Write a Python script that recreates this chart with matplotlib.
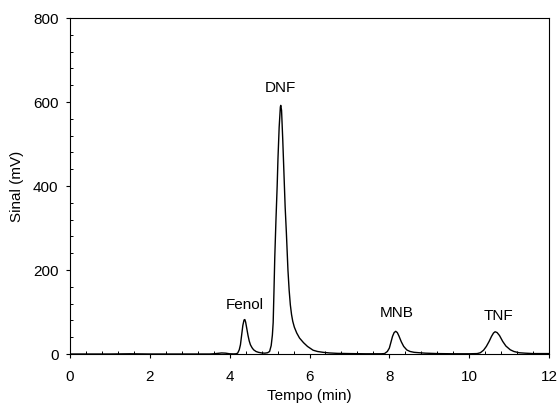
import matplotlib
matplotlib.use("Agg")
import matplotlib.pyplot as plt
from matplotlib.ticker import MultipleLocator

plt.rcParams['font.family'] = ['Liberation Sans', 'DejaVu Sans']

# Chromatogram: retention time (min) and detector signal (mV)
tempo = [0.0, 0.5, 1.0, 1.5, 2.0, 2.5, 3.0, 3.5, 3.6, 3.7, 3.8, 3.9, 4.0, 4.1,
         4.16, 4.2, 4.24, 4.27, 4.30, 4.33, 4.36, 4.38, 4.40, 4.43, 4.46, 4.49,
         4.52, 4.56, 4.60, 4.66, 4.72, 4.80, 4.88, 4.95, 5.00, 5.04, 5.07, 5.09,
         5.11, 5.13, 5.16, 5.19, 5.21, 5.24, 5.27, 5.28, 5.30, 5.33, 5.36, 5.39,
         5.42, 5.46, 5.49, 5.52, 5.55, 5.58, 5.62, 5.68, 5.75, 5.85, 5.95, 6.09,
         6.2, 6.34, 6.5, 6.7, 7.0, 7.4, 7.8, 7.88, 7.95, 8.00, 8.04, 8.08, 8.12,
         8.16, 8.20, 8.24, 8.30, 8.36, 8.44, 8.52, 8.62, 8.75, 8.9, 9.2, 9.6,
         10.0, 10.2, 10.28, 10.36, 10.43, 10.50, 10.56, 10.61, 10.65, 10.70,
         10.76, 10.84, 10.92, 11.03, 11.12, 11.25, 11.4, 11.6, 12.0]
sinal = [0.0, 0.0, 0.0, 0.5, 0.0, 0.0, 0.0, 0.0, 0.5, 1.5, 2.5, 2.0, 0.5, 0.2,
         0.5, 2.0, 10.0, 22.0, 45.0, 68.0, 81.0, 82.0, 76.0, 60.0, 44.0, 31.0,
         22.0, 15.0, 10.0, 6.0, 4.0, 2.5, 2.0, 3.0, 6.0, 20.0, 45.0, 75.0,
         150.0, 230.0, 320.0, 400.0, 465.0, 540.0, 588.0, 592.0, 580.0, 510.0, 430.0, 350.0,
         290.0, 200.0, 152.0, 117.0, 94.0, 78.0, 64.0, 50.0, 38.0, 27.0, 18.0, 9.0,
         6.0, 4.0, 2.5, 1.5, 1.0, 0.5, 0.5, 1.0, 6.0, 14.0, 28.0, 42.0, 51.0,
         54.0, 51.0, 43.0, 29.0, 18.0, 9.5, 6.0, 4.0, 3.0, 2.0, 1.0, 0.5,
         0.5, 1.0, 3.0, 9.0, 18.0, 30.0, 42.0, 50.0, 53.0, 51.0,
         44.0, 30.0, 19.0, 10.0, 6.0, 3.0, 2.0, 1.0, 1.0]

# Compound names and where their labels sit (time, signal)
picos = ['Fenol', 'DNF', 'MNB', 'TNF']
picos_t = [4.37, 5.26, 8.19, 10.73]
picos_y = [117, 633, 98, 91]

fig = plt.figure(figsize=(5.58, 4.05), dpi=100)
ax = fig.add_axes([70/558, 1 - 354/405, (549 - 70)/558, (354 - 18)/405])

ax.plot(tempo, sinal, color='black', linewidth=1.0)

for nome, t, y in zip(picos, picos_t, picos_y):
    ax.text(t, y, nome, ha='center', va='center', fontsize=11)

ax.set_xlim(0, 12)
ax.set_ylim(0, 800)
ax.xaxis.set_major_locator(MultipleLocator(2))
ax.xaxis.set_minor_locator(MultipleLocator(0.4))
ax.yaxis.set_major_locator(MultipleLocator(200))
ax.yaxis.set_minor_locator(MultipleLocator(40))

ax.tick_params(which='major', direction='out', length=3.2, width=0.8,
               labelsize=11, top=False, right=False)
ax.tick_params(axis='x', which='major', pad=8)
ax.tick_params(axis='y', which='major', pad=5)
ax.tick_params(which='minor', direction='in', length=2.4, width=0.7,
               top=False, right=False)

for s in ax.spines.values():
    s.set_linewidth(0.8)

ax.set_xlabel('Tempo (min)', fontsize=11)
ax.set_ylabel('Sinal (mV)', fontsize=11)
ax.xaxis.set_label_coords(0.5, -0.104)
ax.yaxis.set_label_coords(-0.096, 0.5)

fig.savefig('out.png', dpi=100)
